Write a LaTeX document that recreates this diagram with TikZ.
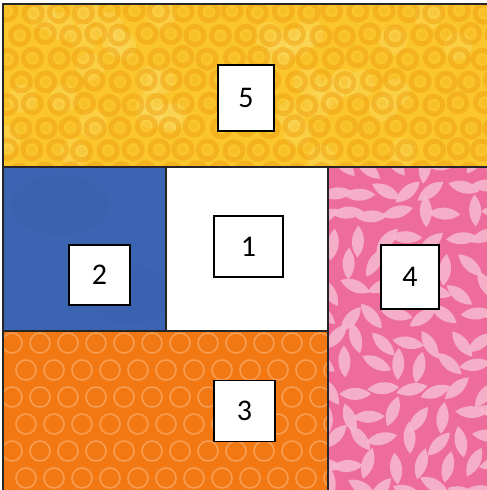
\documentclass[tikz,border=0pt]{standalone}
\usepackage{fontspec}
\setmainfont{Carlito}
\definecolor{yelbase}{HTML}{FAC62C}
\definecolor{yelring}{HTML}{F0A012}
\definecolor{yellight}{HTML}{FDE57A}
\definecolor{orbase}{HTML}{F27814}
\definecolor{orring}{HTML}{FAAA66}
\definecolor{pkbase}{HTML}{EE6C9C}
\definecolor{pkleaf}{HTML}{F6B6CD}
\definecolor{blbase}{HTML}{3B64B3}
\definecolor{bldark}{HTML}{2F5596}
\definecolor{seam}{HTML}{262626}
\tikzset{
  label box/.style={draw=black, line width=1.4pt, fill=white, inner sep=0pt,
    font=\fontsize{30}{36}\selectfont},
  seamline/.style={draw=seam, line width=1.6pt},
}
\begin{document}
\begin{tikzpicture}[x=1pt,y=-1pt]
\useasboundingbox (0,0) rectangle (487,490);
\fill[white] (0,0) rectangle (487,490);
\pgfmathsetseed{11}
% ---------- yellow (5)
\begin{scope}
\clip (3,4) rectangle (487,167);
\fill[yelbase] (3,4) rectangle (487,167);
\foreach \i in {1,...,40}{
  \pgfmathsetmacro\xx{3+rnd*484}\pgfmathsetmacro\yy{4+rnd*163}
  \fill[yellight,opacity=0.3] (\xx,\yy) circle[radius=14pt];
}
\foreach \r in {0,...,7}{
  \foreach \c in {0,...,20}{
    \pgfmathsetmacro\xx{\c*25+mod(\r,2)*12.5+8+rand*1.5}
    \pgfmathsetmacro\yy{\r*23+12+rand*1.5}
    \draw[yelring,line width=5pt,opacity=0.5] (\xx,\yy) circle[radius=9pt];
    \fill[yelring,opacity=0.15] (\xx,\yy) circle[radius=4pt];
  }
}
\end{scope}
% ---------- blue (2)
\begin{scope}
\clip (3,167) rectangle (166,331);
\fill[blbase] (3,167) rectangle (166,331);
\fill[bldark,opacity=0.12] (60,205) ellipse[x radius=50pt,y radius=30pt];
\fill[bldark,opacity=0.08] (130,295) ellipse[x radius=40pt,y radius=30pt];
\end{scope}
% ---------- white centre (1)
\fill[white] (166,167) rectangle (328,331);
% ---------- orange (3)
\begin{scope}
\clip (3,331) rectangle (328,490);
\fill[orbase] (3,331) rectangle (328,490);
\foreach \r in {0,...,6}{
  \foreach \c in {0,...,12}{
    \pgfmathsetmacro\xx{\c*28+mod(\r,2)*14+12}
    \pgfmathsetmacro\yy{\r*27+343}
    \draw[orring,line width=1.6pt,opacity=0.75] (\xx,\yy) circle[radius=10pt];
  }
}
\end{scope}
% ---------- pink (4)
\begin{scope}
\clip (328,167) rectangle (487,490);
\fill[pkbase] (328,167) rectangle (487,490);
\foreach \r in {0,...,13}{
  \foreach \c in {0,...,7}{
    \pgfmathsetmacro\xx{322+\c*25+mod(\r,2)*12+rand*5}
    \pgfmathsetmacro\yy{165+\r*25+rand*5}
    \pgfmathsetmacro\aa{rnd*180}
    \fill[pkleaf,opacity=0.9,shift={(\xx,\yy)},rotate=\aa]
      (-16,0) .. controls (-6,-8) and (6,-8) .. (16,0)
      .. controls (6,8) and (-6,8) .. (-16,0) -- cycle;
  }
}
\end{scope}
% ---------- seams
\coordinate (tl) at (3,4);
\coordinate (tr) at (487,4);
\coordinate (bl) at (3,490);
\coordinate (ml) at (3,167);
\coordinate (mr) at (487,167);
\coordinate (s1t) at (166,167);
\coordinate (s1b) at (166,331);
\coordinate (s2t) at (328,167);
\coordinate (s2b) at (328,490);
\coordinate (hl) at (3,331);
\coordinate (hr) at (328,331);
\draw[seamline] (tr) -- (tl) -- (bl);
\draw[seamline] (ml) -- (mr);
\draw[seamline] (s1t) -- (s1b);
\draw[seamline] (s2t) -- (s2b);
\draw[seamline] (hl) -- (hr);
% ---------- labels
\node[label box, minimum width=56pt, minimum height=66pt] (n5) at (246,98) {5};
\node[label box, minimum width=69pt, minimum height=61pt] (n1) at (248.5,246.5) {1\hspace{8pt}};
\node[label box, minimum width=61pt, minimum height=60pt] (n2) at (99.5,275) {2};
\node[label box, minimum width=58pt, minimum height=64pt] (n4) at (410,277) {4};
\node[label box, minimum width=61pt, minimum height=61pt] (n3) at (244.5,411) {3};
\end{tikzpicture}
\end{document}
